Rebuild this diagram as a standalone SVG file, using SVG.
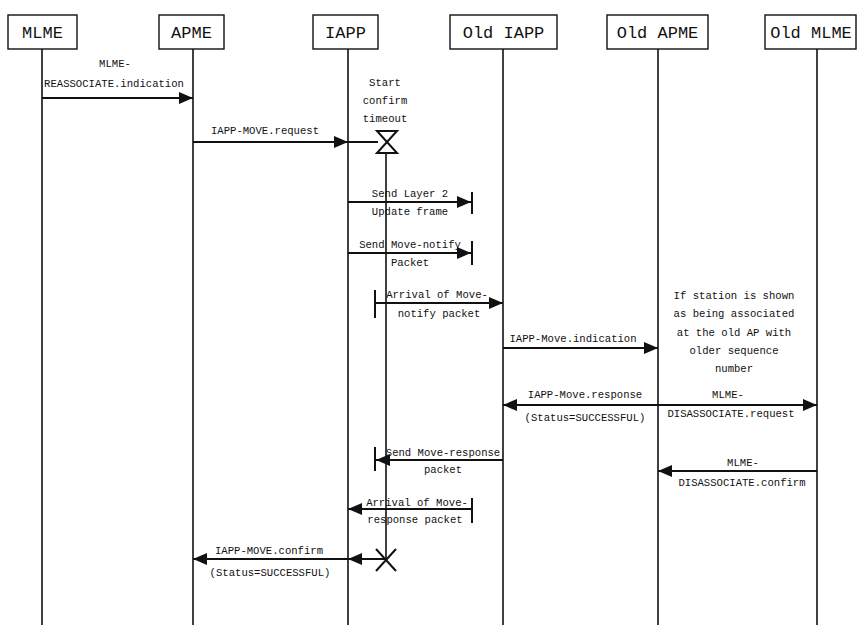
<svg xmlns="http://www.w3.org/2000/svg" width="858" height="625" viewBox="0 0 858 625">
<defs>
<marker id="ah" markerUnits="userSpaceOnUse" markerWidth="14" markerHeight="12" refX="14" refY="6" orient="auto">
<path d="M0,0 L14,6 L0,12 Z" fill="#111"/>
</marker>
<style>
.box{fill:#fff;stroke:#111;stroke-width:1.4}
.hd{font-family:"Liberation Mono","DejaVu Sans Mono",monospace;font-size:17px;text-anchor:middle;fill:#111}
.life{stroke:#111;stroke-width:1.6;fill:none}
.msg{stroke:#111;stroke-width:2;fill:none}
.arr{marker-end:url(#ah)}
.bar{stroke:#111;stroke-width:2}
.lbl{font-family:"Liberation Mono","DejaVu Sans Mono",monospace;font-size:10.6px;text-anchor:middle;fill:#111}
</style>
</defs>
<rect width="858" height="625" fill="#fff"/>

<g id="MLME"><line class="life" x1="42" y1="49" x2="42" y2="625"/><rect class="box" x="8" y="15" width="69" height="34"/><text class="hd" x="42.5" y="38">MLME</text></g>
<g id="APME"><line class="life" x1="193" y1="49" x2="193" y2="625"/><rect class="box" x="159" y="15" width="65" height="34"/><text class="hd" x="191.5" y="38">APME</text></g>
<g id="IAPP"><line class="life" x1="348" y1="49" x2="348" y2="625"/><rect class="box" x="313" y="15" width="65" height="34"/><text class="hd" x="345.5" y="38">IAPP</text></g>
<g id="OldIAPP"><line class="life" x1="503" y1="49" x2="503" y2="625"/><rect class="box" x="450" y="15" width="107" height="34"/><text class="hd" x="503.5" y="38">Old IAPP</text></g>
<g id="OldAPME"><line class="life" x1="658" y1="49" x2="658" y2="625"/><rect class="box" x="607" y="15" width="101" height="34"/><text class="hd" x="657.5" y="38">Old APME</text></g>
<g id="OldMLME"><line class="life" x1="817" y1="49" x2="817" y2="625"/><rect class="box" x="765" y="15" width="91" height="34"/><text class="hd" x="811" y="38">Old MLME</text></g>

<g id="timer">
<text class="lbl" x="385" y="86">Start</text>
<text class="lbl" x="385" y="104">confirm</text>
<text class="lbl" x="385" y="122">timeout</text>
<path d="M377,131 L397,131 L377,153 L397,153 Z" fill="none" stroke="#111" stroke-width="2"/>
<line class="life" x1="386" y1="153" x2="386" y2="560"/>
<path d="M376,549 L396,571 M396,549 L376,571" stroke="#111" stroke-width="2"/>
</g>

<g id="note">
<text class="lbl" x="734" y="299">If station is shown</text>
<text class="lbl" x="734" y="317">as being associated</text>
<text class="lbl" x="734" y="336">at the old AP with</text>
<text class="lbl" x="734" y="354">older sequence</text>
<text class="lbl" x="734" y="372">number</text>
</g>

<g id="connectors">
<line class="msg arr" x1="42" y1="98" x2="193" y2="98"/>
<line class="msg arr" x1="193" y1="142" x2="348" y2="142"/>
<line class="msg" x1="348" y1="142" x2="378" y2="142"/>
<line class="msg arr" x1="348" y1="202" x2="471" y2="202"/>
<line class="bar" x1="472" y1="192" x2="472" y2="214"/>
<line class="msg arr" x1="348" y1="253" x2="471" y2="253"/>
<line class="bar" x1="472" y1="241" x2="472" y2="265"/>
<line class="bar" x1="375" y1="290" x2="375" y2="318"/>
<line class="msg arr" x1="375" y1="303" x2="503" y2="303"/>
<line class="msg arr" x1="503" y1="348" x2="658" y2="348"/>
<line class="msg arr" x1="658" y1="405" x2="503" y2="405"/>
<line class="msg arr" x1="658" y1="405" x2="817" y2="405"/>
<line class="bar" x1="375" y1="447" x2="375" y2="471"/>
<line class="msg arr" x1="503" y1="460" x2="376" y2="460"/>
<line class="msg arr" x1="817" y1="471" x2="658" y2="471"/>
<line class="bar" x1="472" y1="498" x2="472" y2="523"/>
<line class="msg arr" x1="472" y1="509" x2="348" y2="509"/>
<line class="msg arr" x1="386" y1="559" x2="348" y2="559"/>
<line class="msg arr" x1="348" y1="559" x2="193" y2="559"/>
</g>

<g id="labels">
<text class="lbl" x="115" y="67">MLME-</text>
<text class="lbl" x="114" y="87">REASSOCIATE.indication</text>
<text class="lbl" x="265" y="134">IAPP-MOVE.request</text>
<text class="lbl" x="410" y="197">Send Layer 2</text>
<text class="lbl" x="410" y="215">Update frame</text>
<text class="lbl" x="410" y="248">Send Move-notify</text>
<text class="lbl" x="410" y="266">Packet</text>
<text class="lbl" x="437" y="298">Arrival of Move-</text>
<text class="lbl" x="439" y="317">notify packet</text>
<text class="lbl" x="573" y="342">IAPP-Move.indication</text>
<text class="lbl" x="585" y="398">IAPP-Move.response</text>
<text class="lbl" x="585" y="421">(Status=SUCCESSFUL)</text>
<text class="lbl" x="728" y="398">MLME-</text>
<text class="lbl" x="731" y="417">DISASSOCIATE.request</text>
<text class="lbl" x="443" y="456">Send Move-response</text>
<text class="lbl" x="443" y="473">packet</text>
<text class="lbl" x="743" y="466">MLME-</text>
<text class="lbl" x="742" y="486">DISASSOCIATE.confirm</text>
<text class="lbl" x="417" y="506">Arrival of Move-</text>
<text class="lbl" x="415" y="523">response packet</text>
<text class="lbl" x="269" y="554">IAPP-MOVE.confirm</text>
<text class="lbl" x="270" y="576">(Status=SUCCESSFUL)</text>
</g>
</svg>
